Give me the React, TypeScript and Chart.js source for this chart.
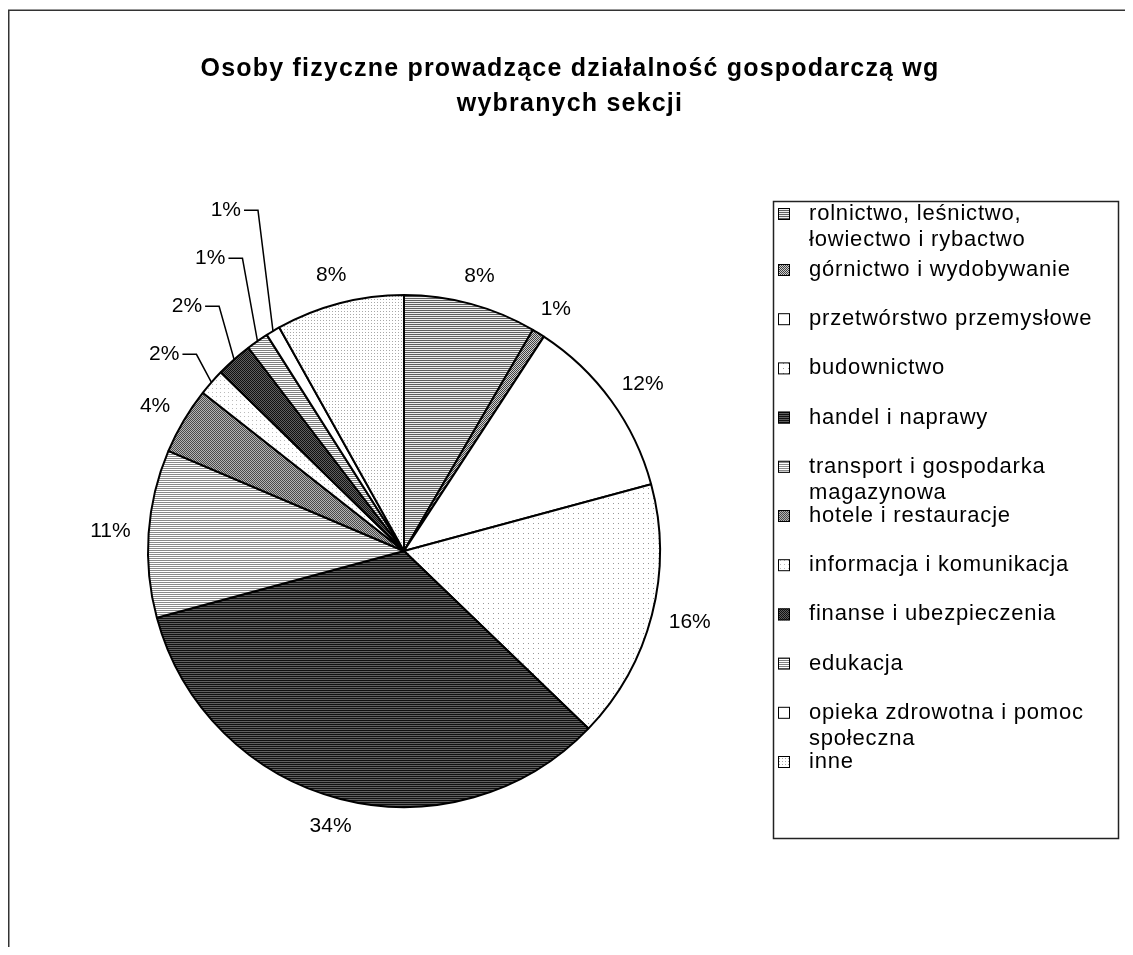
import React, { useEffect, useRef } from "react";
import { Chart, registerables } from "chart.js";

Chart.register(...registerables);

const titleLines = [
  "Osoby fizyczne prowadzące działalność gospodarczą wg",
  "wybranych sekcji",
];

const categories: string[][] = [
  ["rolnictwo, leśnictwo,", "łowiectwo i rybactwo"],
  ["górnictwo i wydobywanie"],
  ["przetwórstwo przemysłowe"],
  ["budownictwo"],
  ["handel i naprawy"],
  ["transport i gospodarka", "magazynowa"],
  ["hotele i restauracje"],
  ["informacja i komunikacja"],
  ["finanse i ubezpieczenia"],
  ["edukacja"],
  ["opieka zdrowotna i pomoc", "społeczna"],
  ["inne"],
];

const shares = [8.4, 0.8, 11.6, 16.4, 33.6, 10.6, 4.2, 1.7, 2.3, 1.4, 0.9, 8.1];

// slices whose labels are drawn with leader lines
const leaderSlices = [7, 8, 9, 10];

type FillSpec = { kind: string; size: number; bg: string; fg: string };
const fillSpecs: FillSpec[] = [
  { kind: "h", size: 2, bg: "#eeeeee", fg: "#606060" },
  { kind: "check", size: 2, bg: "#cfcfcf", fg: "#404040" },
  { kind: "none", size: 2, bg: "#ffffff", fg: "#ffffff" },
  { kind: "dot", size: 5, bg: "#ffffff", fg: "#9a9a9a" },
  { kind: "h", size: 2, bg: "#5e5e5e", fg: "#101010" },
  { kind: "h", size: 2, bg: "#ffffff", fg: "#8a8a8a" },
  { kind: "check", size: 2, bg: "#b4b4b4", fg: "#4a4a4a" },
  { kind: "dot", size: 4, bg: "#ffffff", fg: "#bbbbbb" },
  { kind: "check", size: 2, bg: "#606060", fg: "#101010" },
  { kind: "h", size: 2, bg: "#ffffff", fg: "#808080" },
  { kind: "none", size: 2, bg: "#ffffff", fg: "#ffffff" },
  { kind: "dot", size: 3, bg: "#ffffff", fg: "#a8a8a8" },
];

function makePattern(spec: FillSpec): CanvasPattern | string {
  const c = document.createElement("canvas");
  c.width = spec.size;
  c.height = spec.size;
  const g = c.getContext("2d");
  if (!g) return spec.bg;
  g.fillStyle = spec.bg;
  g.fillRect(0, 0, spec.size, spec.size);
  g.fillStyle = spec.fg;
  if (spec.kind === "h") g.fillRect(0, 0, spec.size, 1);
  else if (spec.kind === "dot") g.fillRect(0, 0, 1, 1);
  else if (spec.kind === "check") {
    g.fillRect(0, 0, 1, 1);
    g.fillRect(1, 1, 1, 1);
  }
  return g.createPattern(c, "repeat") || spec.bg;
}

const FONT = "'Liberation Sans', Arial, sans-serif";

export default function App() {
  const ref = useRef<HTMLCanvasElement>(null);

  useEffect(() => {
    const canvas = ref.current;
    if (!canvas) return;
    const fills = fillSpecs.map(makePattern);
    const total = shares.reduce((a, b) => a + b, 0);
    const pct = (v: number) => Math.round((v / total) * 100) + "%";

    const decor = {
      id: "decor",
      beforeDraw(chart: any) {
        const ctx = chart.ctx as CanvasRenderingContext2D;
        ctx.save();
        ctx.fillStyle = "#ffffff";
        ctx.fillRect(0, 0, chart.width, chart.height);
        ctx.strokeStyle = "#333";
        ctx.lineWidth = 1.5;
        ctx.strokeRect(0.75, 2.25, chart.width + 20, chart.height + 20);
        ctx.fillStyle = "#000";
        ctx.font = `bold 25px ${FONT}`;
        (ctx as any).letterSpacing = "1.2px";
        ctx.textAlign = "center";
        ctx.textBaseline = "middle";
        titleLines.forEach((t, i) => ctx.fillText(t, 562, 61 + i * 35));
        ctx.restore();
      },
      afterDatasetsDraw(chart: any) {
        const ctx = chart.ctx as CanvasRenderingContext2D;
        const arcs = chart.getDatasetMeta(0).data;
        ctx.save();
        ctx.fillStyle = "#000";
        ctx.strokeStyle = "#000";
        ctx.lineWidth = 1.5;
        ctx.font = `21px ${FONT}`;
        ctx.textBaseline = "middle";
        let baseY = 0;
        let k = 0;
        arcs.forEach((arc: any, i: number) => {
          const p = arc.getProps(["x", "y", "startAngle", "endAngle", "outerRadius"], true);
          const mid = (p.startAngle + p.endAngle) / 2;
          const cos = Math.cos(mid);
          const sin = Math.sin(mid);
          const text = pct(shares[i]);
          if (leaderSlices.includes(i)) {
            const ex = p.x + cos * p.outerRadius;
            const ey = p.y + sin * p.outerRadius;
            if (k === 0) baseY = ey - 28;
            const elY = baseY - 48 * k;
            const elX = ex - 15;
            ctx.beginPath();
            ctx.moveTo(ex, ey);
            ctx.lineTo(elX, elY);
            ctx.lineTo(elX - 14, elY);
            ctx.stroke();
            ctx.textAlign = "right";
            ctx.fillText(text, elX - 17, elY);
            k++;
          } else {
            const w = ctx.measureText(text).width;
            const h = 21;
            const r = p.outerRadius + 18;
            ctx.textAlign = "center";
            ctx.fillText(
              text,
              p.x + cos * r + (cos * w) / 2,
              p.y + sin * r + (sin * h) / 2
            );
          }
        });
        ctx.restore();
      },
      afterDraw(chart: any) {
        const ctx = chart.ctx as CanvasRenderingContext2D;
        ctx.save();
        ctx.strokeStyle = "#222";
        ctx.lineWidth = 1.5;
        ctx.strokeRect(765.5, 193.5, 345, 637);
        ctx.font = `22px ${FONT}`;
        (ctx as any).letterSpacing = "0.8px";
        ctx.textAlign = "left";
        ctx.textBaseline = "middle";
        categories.forEach((lines, i) => {
          const cy = i === 0 ? 206 : 262 + (i - 1) * 49.2;
          ctx.fillStyle = fills[i] as any;
          ctx.fillRect(770, cy - 6, 12, 12);
          ctx.strokeStyle = "#000";
          ctx.lineWidth = 1;
          ctx.strokeRect(770.5, cy - 5.5, 11, 11);
          ctx.fillStyle = "#000";
          lines.forEach((ln, j) => ctx.fillText(ln, 801, cy + j * 26));
        });
        ctx.restore();
      },
    };

    const chart = new Chart(canvas, {
      type: "pie",
      data: {
        labels: categories.map((c) => c.join(" ")),
        datasets: [
          {
            data: shares,
            backgroundColor: fills as any,
            borderColor: "#000000",
            borderWidth: 2,
          },
        ],
      },
      options: {
        responsive: false,
        animation: false,
        devicePixelRatio: 1,
        layout: { padding: { left: 139, right: 472, top: 286, bottom: 139 } },
        plugins: {
          legend: { display: false },
          title: { display: false },
          tooltip: { enabled: false },
        },
      },
      plugins: [decor],
    });
    return () => chart.destroy();
  }, []);

  return <canvas ref={ref} width={1125} height={939} style={{ display: "block" }} />;
}
